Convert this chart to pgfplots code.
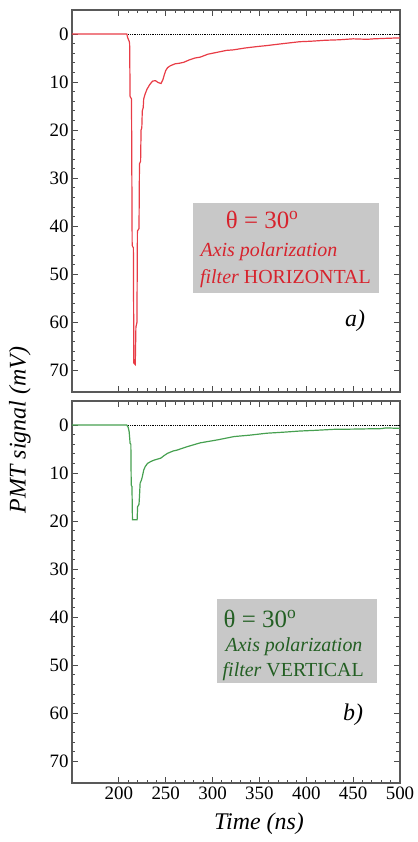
\documentclass[border=0pt]{standalone}
\usepackage{pgfplots}
\pgfplotsset{compat=1.18}
\usepackage{fontspec}
\setmainfont{Liberation Serif}
\definecolor{redline}{RGB}{232,60,70}
\definecolor{redtext}{RGB}{215,35,45}
\definecolor{greenline}{RGB}{70,160,80}
\definecolor{greentext}{RGB}{35,95,35}
\definecolor{boxgray}{RGB}{200,200,200}
\begin{document}
\begin{tikzpicture}
\pgfplotsset{
 panel/.style={
  scale only axis, width=328bp, height=382bp,
  xmin=150, xmax=500, ymin=-5, ymax=74.5, y dir=reverse,
  xtick={200,250,...,500}, ytick={0,10,...,70},
  minor x tick num=4, minor y tick num=4,
  tick align=inside,
  major tick length=6bp, minor tick length=3.5bp,
  axis line style={black!65, line width=1.1bp},
  every tick/.style={black!70, line width=0.9bp},
  tick label style={font=\fontsize{19}{19}\selectfont},
  /pgf/number format/assume math mode=true,
 }
}
\begin{axis}[panel, at={(0,391bp)}, anchor=south west, xticklabels={}]
\addplot[black, densely dotted, line width=0.8bp] coordinates {(210,0) (500,0)};
\addplot[redline, line width=1.2bp] coordinates {
(150,0) (208.5,0) (209.5,0.8) (211,1.5) (211.5,2) (212,13) (213.5,13.5) (214.2,44) (215.5,44.5) (216,68.5) (217.5,68.8) (218.2,61) (219.3,60) (219.8,41) (221.5,40.5) (222,27) (223.2,26.5) (223.7,20) (224.5,19.5) (225,16) (226,15.3) (226.5,13.5) (228,12.5) (230,11.5) (233,10.5) (236,9.8) (239,9.7) (242,10.1) (245,10.3) (247,9.5) (248.5,8.5) (250,7.6) (252,7) (255,6.6) (260,6.2) (264,6.1) (269,5.9) (275,5.4) (281,5.0) (287,4.8) (295,4.2) (305,3.8) (315,3.4) (322,3.3) (335,2.9) (348,2.6) (358,2.4) (375,2.0) (393,1.6) (405,1.5) (420,1.3) (435,1.2) (450,1.0) (465,1.1) (472,1.0) (485,0.9) (500,0.8)
};
\node[fill=boxgray, anchor=north west, minimum width=186bp, minimum height=90bp, inner sep=0] at (axis cs:278.7,35.1) {};
\node[anchor=base west, text=redtext, font=\fontsize{25}{25}\selectfont, inner sep=0] at (axis cs:314,40.4) {θ = 30\textsuperscript{o}};
\node[anchor=base west, text=redtext, font=\fontsize{20}{20}\selectfont, inner sep=0] at (axis cs:287,46.2) {\textit{Axis polarization}};
\node[anchor=base west, text=redtext, font=\fontsize{20}{20}\selectfont, inner sep=0] at (axis cs:286.5,51.9) {\textit{filter} HORIZONTAL};
\node[font=\fontsize{24}{24}\selectfont\itshape] at (axis cs:452,59.7) {a)};
\end{axis}
\begin{axis}[panel, at={(0,0)}, anchor=south west,
  xlabel={\textit{Time (ns)}},
  xlabel style={font=\fontsize{24}{24}\selectfont, xshift=23bp, yshift=-7bp}]
\addplot[black, densely dotted, line width=0.8bp] coordinates {(210,0) (500,0)};
\addplot[greenline, line width=1.2bp] coordinates {
(150,0) (208.5,0) (210,0.5) (211,1.4) (212,3.8) (212.8,4) (213.2,12.5) (214,12.8) (214.5,19.7) (219.5,19.7) (220,17) (221.5,16.5) (222,14.9) (222.7,12.1) (224,11.5) (225,10.8) (226.5,9.4) (228,8.7) (230.5,8) (234,7.6) (237.6,7.3) (244.7,6.9) (248,6.4) (251.8,5.9) (258,5.4) (262.4,5.2) (273,4.5) (287,3.7) (305,3.1) (323,2.4) (340,2.1) (358,1.7) (375,1.5) (393,1.25) (410,1.1) (429,0.9) (450,0.85) (464,0.8) (480,0.75) (485,0.6) (500,0.7)
};
\node[fill=boxgray, anchor=north west, minimum width=160bp, minimum height=84bp, inner sep=0] at (axis cs:304.3,36.2) {};
\node[anchor=base west, text=greentext, font=\fontsize{25}{25}\selectfont, inner sep=0] at (axis cs:311.7,42.2) {θ = 30\textsuperscript{o}};
\node[anchor=base west, text=greentext, font=\fontsize{20}{20}\selectfont, inner sep=0] at (axis cs:313.8,47.2) {\textit{Axis polarization}};
\node[anchor=base west, text=greentext, font=\fontsize{20}{20}\selectfont, inner sep=0] at (axis cs:310.6,52.4) {\textit{filter} VERTICAL};
\node[font=\fontsize{24}{24}\selectfont\itshape] at (axis cs:450,60.3) {b)};
\end{axis}
\node[rotate=90, font=\fontsize{24}{24}\selectfont\itshape] at (-52bp,353bp) {PMT signal (mV)};
\path (-72bp,-59bp) rectangle (344bp,783bp);
\end{tikzpicture}
\end{document}
